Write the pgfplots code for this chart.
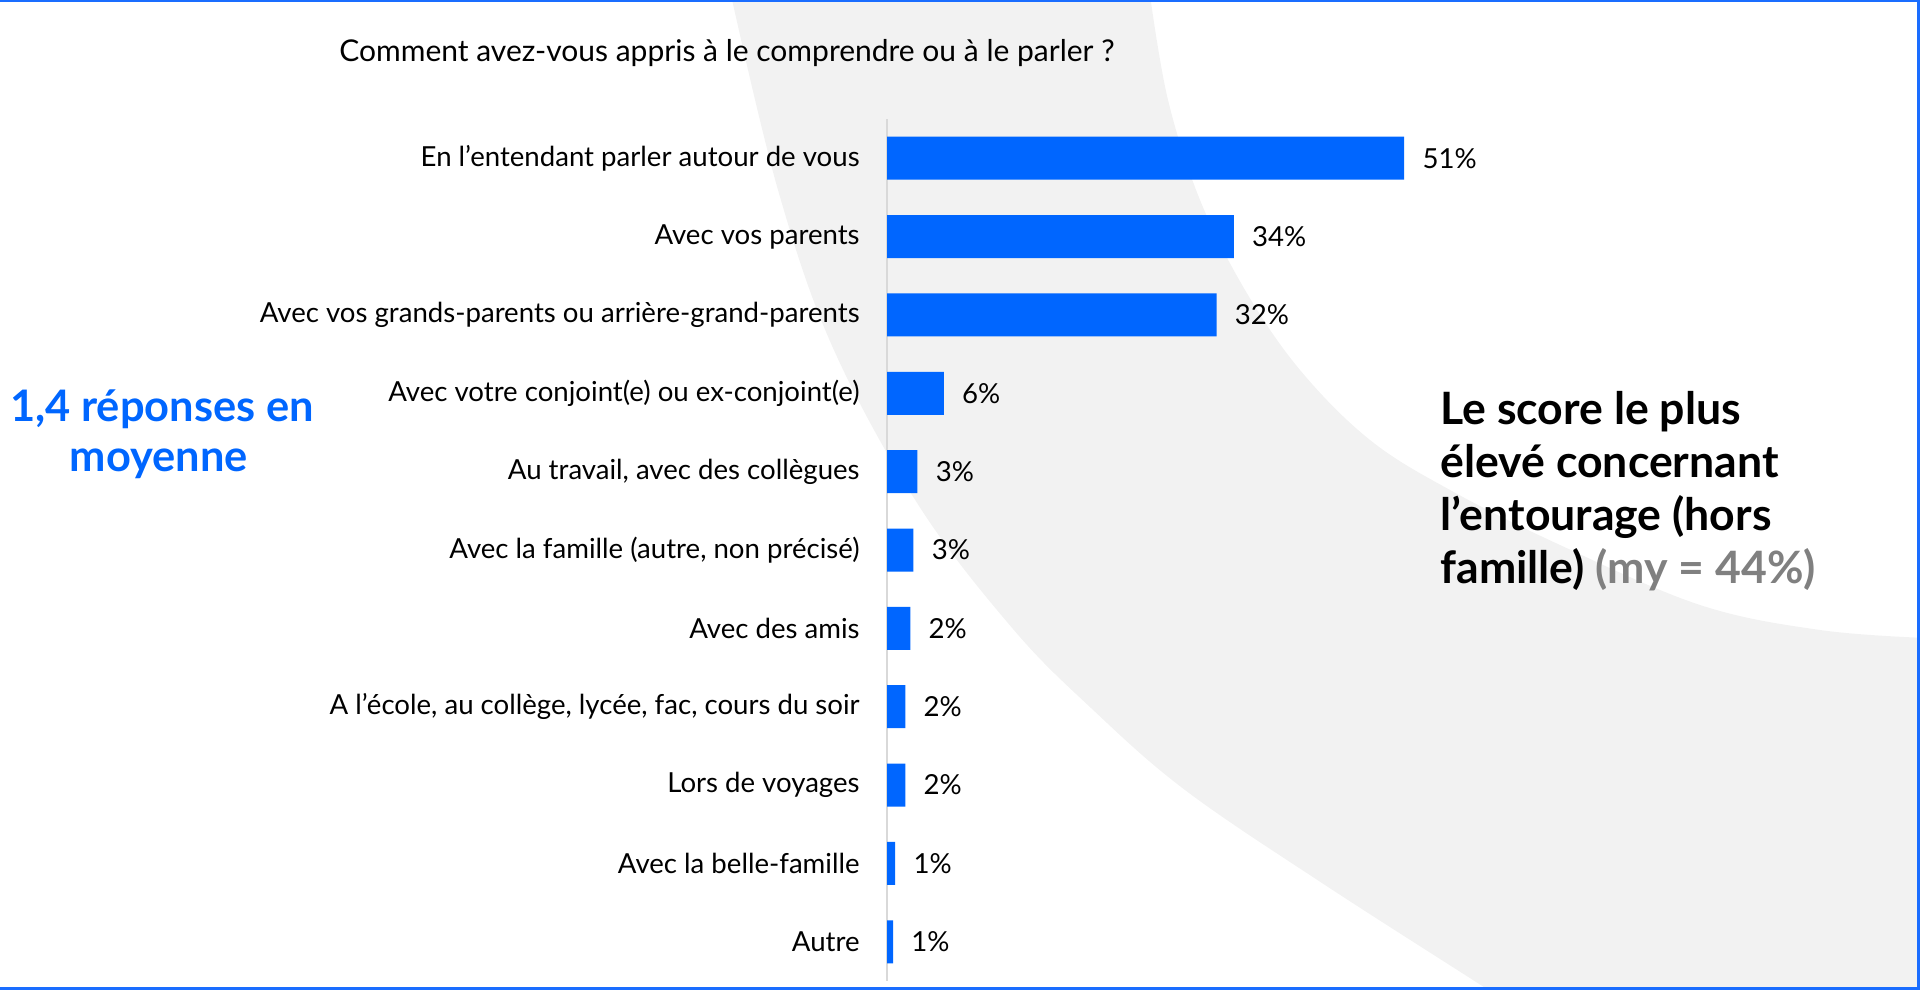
\documentclass[border=0pt]{standalone}
\usepackage{pgfplots}
\pgfplotsset{compat=1.18}
\usepackage{fontspec}
\setmainfont{Lato}
\definecolor{barblue}{HTML}{0066FF}
\definecolor{framblue}{HTML}{1A6DFF}
\definecolor{bggray}{HTML}{F2F2F2}
\definecolor{axgray}{HTML}{D9D9D9}
\definecolor{txtgray}{HTML}{808080}
\begin{document}
\begin{tikzpicture}
\useasboundingbox (0,0) rectangle (963pt,495.5pt);
\begin{scope}[yshift=495.5pt, x=0.5pt, y=-0.5pt]
\clip (-10,2) rectangle (1918,988);
\fill[bggray] plot[smooth, tension=0.6] coordinates {(731,-5) (778,190) (833,348) (919,506) (1013,629) (1091,708) (1185,790) (1325,885) (1490,991) (1495,996)} -- (1930,996) -- (1930,638) -- plot[smooth, tension=0.6] coordinates {(1926,638) (1820,630) (1700,605) (1560,545) (1450,490) (1370,440) (1300,370) (1245,290) (1200,200) (1168,100) (1150,-5)} -- cycle;
\end{scope}
\begin{scope}[yshift=495.5pt, x=0.5pt, y=-0.5pt]
\draw[framblue, line width=1.2pt] (-20,1.2) rectangle (1918.5,988.5);
\node[anchor=base west, font=\fontsize{15}{17}\selectfont, inner sep=0pt] at (339,62) {Comment avez-vous appris à le comprendre ou à le parler ?};
\node[anchor=base, font=\bfseries\fontsize{21.7}{24}\selectfont, text=barblue, inner sep=0pt] at (162,422) {1,4 réponses en};
\node[anchor=base, font=\bfseries\fontsize{21.7}{24}\selectfont, text=barblue, inner sep=0pt] at (159,472) {moyenne};
\node[anchor=base west, font=\bfseries\fontsize{22.3}{25}\selectfont, inner sep=0pt] at (1440,425) {Le score le plus};
\node[anchor=base west, font=\bfseries\fontsize{22.3}{25}\selectfont, inner sep=0pt] at (1440,478) {élevé concernant};
\node[anchor=base west, font=\bfseries\fontsize{22.3}{25}\selectfont, inner sep=0pt] at (1440,531) {l’entourage (hors};
\node[anchor=base west, font=\bfseries\fontsize{22.3}{25}\selectfont, inner sep=0pt] at (1440,584) {famille) \textcolor{txtgray}{(my = 44\%)}};
\end{scope}
\begin{axis}[
  at={(443.5pt,5pt)}, anchor=south west,
  scale only axis, width=304.2pt, height=431pt,
  xmin=0, xmax=60, ymin=-0.5, ymax=10.5, y dir=reverse,
  xbar, bar width=21.5pt, bar shift=0pt,
  axis x line=none, axis y line=left,
  y axis line style={-, draw=axgray, line width=1pt},
  ytick={0,...,10},
  yticklabels={{En l’entendant parler autour de vous},{Avec vos parents},{Avec vos grands-parents ou arrière-grand-parents},{Avec votre conjoint(e) ou ex-conjoint(e)},{Au travail, avec des collègues},{Avec la famille (autre, non précisé)},{Avec des amis},{A l’école, au collège, lycée, fac, cours du soir},{Lors de voyages},{Avec la belle-famille},{Autre}},
  major tick length=0pt, tick style={draw=none},
  yticklabel style={font=\fontsize{13.8}{16}\selectfont, inner sep=0pt, xshift=-13.5pt, anchor=east},
  /pgf/number format/assume math mode=true,
  point meta=explicit,
  nodes near coords={\pgfmathprintnumber{\pgfplotspointmeta}\%},
  nodes near coords style={font=\fontsize{13.8}{16}\selectfont, inner sep=0pt, xshift=9pt, anchor=west, text=black, /pgf/number format/assume math mode=true},
]
\addplot[fill=barblue, draw=none] coordinates {
(51,0) [51]
(34.2,1) [34]
(32.5,2) [32]
(5.6,3) [6]
(3.0,4) [3]
(2.6,5) [3]
(2.3,6) [2]
(1.8,7) [2]
(1.8,8) [2]
(0.8,9) [1]
(0.6,10) [1]
};
\end{axis}
\end{tikzpicture}
\end{document}
